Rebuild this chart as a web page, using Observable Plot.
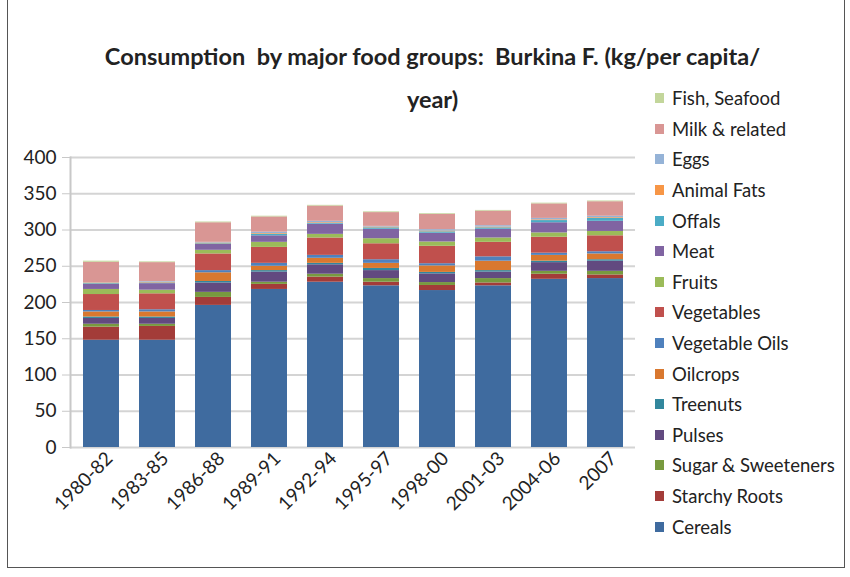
<!DOCTYPE html>
<html>
<head>
<meta charset="utf-8">
<script src="https://cdn.jsdelivr.net/npm/d3@7"></script>
<script src="https://cdn.jsdelivr.net/npm/@observablehq/plot@0.6"></script>
<style>
  html, body { margin: 0; padding: 0; background: #fff; }
  #wrap { position: relative; width: 850px; height: 577px; overflow: hidden;
          font-family: Lato, "Open Sans", sans-serif; color: #222; }
  #frame { position: absolute; left: 7px; top: -2px; width: 838px; height: 570px;
           border: 1px solid #555; box-sizing: border-box; }
  #title { position: absolute; left: 60px; width: 745px; top: 35px; text-align: center;
           font-size: 23.5px; font-weight: bold; line-height: 43px; }
  #legend { position: absolute; left: 655px; top: 83px; }
  .row { height: 30.6px; display: flex; align-items: center; font-size: 18.5px; }
  .sw { width: 9px; height: 10px; margin-right: 8px; }
  svg { position: absolute; left: 0; top: 0; }
</style>
</head>
<body>
<div id="wrap">
  <div id="frame"></div>
  <div id="title">Consumption&nbsp; by major food groups:&nbsp; Burkina F. (kg/per capita/<br>year)</div>
  <div id="legend"></div>
</div>
<script>
const years = ["1980-82","1983-85","1986-88","1989-91","1992-94","1995-97","1998-00","2001-03","2004-06","2007"];
const groups = ["Cereals","Starchy Roots","Sugar & Sweeteners","Pulses","Treenuts","Oilcrops","Vegetable Oils","Vegetables","Fruits","Meat","Offals","Animal Fats","Eggs","Milk & related","Fish, Seafood"];
const colors = ["#3f6b9f","#a33c39","#789a3f","#624a80","#32879d","#d9782f","#4f81bd","#c0504d","#9bbb59","#8064a2","#4bacc6","#f79646","#95b3d7","#d99694","#c3d69b"];
const yTicks = [0,50,100,150,200,250,300,350,400];

const cereals      = [148,148,196,218,228,223,216.5,223,232,233];
const starchyRoots = [18,19,11,7,7,5,7,4,7,5];
const sugar        = [4,3,7,3,4,5,4,6,4,5];
const pulses       = [8,8,13,14,13,11,12,9,12,14];
const treenuts     = [2,2,2,2,2,3,2,2,2,2];
const oilcrops     = [7,7,12,6,7,7,9,13,8,8];
const vegOils      = [2,3,3,4,4,5,3,6,3,3];
const vegetables   = [22,22,23,22,24,22,24,20,22,22];
const fruits       = [7,5,5,7,5,7,6,6,6,6];
const meat         = [7,9,8,9,14,13,12,12,14,14];
const offals       = [1,1,1,2,1,2,2,2,3,4];
const animalFats   = [1,1,1,1,1,1,1,1,1,1];
const eggs         = [0.5,1,1,2,2,1,2,2,2,2];
const milk         = [28,26,27,21,21,19,21,20,20,20];
const fish         = [1.5,1,1,1,1,1,1,1,1,1];

const series = [cereals,starchyRoots,sugar,pulses,treenuts,oilcrops,vegOils,vegetables,fruits,meat,offals,animalFats,eggs,milk,fish];
const data = [];
groups.forEach((g, gi) => years.forEach((y, yi) => data.push({year: y, group: g, value: series[gi][yi]})));

const font = 'Lato, "Open Sans", sans-serif';
const chart = Plot.plot({
  width: 850, height: 577,
  marginTop: 157, marginBottom: 130, marginLeft: 70, marginRight: 215,
  style: { fontFamily: font, fontSize: "18px", color: "#222", background: "transparent" },
  x: { domain: years, paddingInner: 0.36, paddingOuter: 0.2, label: null },
  y: { domain: [0, 400], label: null },
  color: { domain: groups, range: colors },
  marks: [
    Plot.ruleY(yTicks, { stroke: "#d4d4d4", strokeWidth: 2 }),
    Plot.barY(data, { x: "year", y: "value", fill: "group", order: groups }),
    Plot.axisY({ ticks: yTicks, tickSize: 8, tickPadding: 6, stroke: "#c8c8c8", fontSize: 19, label: null }),
    Plot.axisX({ tickSize: 0, tickRotate: -45, tickPadding: 8, fontSize: 19, label: null, dx: 8 }),
    Plot.frame({ anchor: "left", stroke: "#c8c8c8", strokeWidth: 2 })
  ]
});
document.getElementById("wrap").appendChild(chart);

const legend = document.getElementById("legend");
groups.slice().reverse().forEach(g => {
  const row = document.createElement("div");
  row.className = "row";
  const sw = document.createElement("div");
  sw.className = "sw";
  sw.style.background = colors[groups.indexOf(g)];
  const t = document.createElement("span");
  t.textContent = g;
  row.appendChild(sw); row.appendChild(t);
  legend.appendChild(row);
});
</script>
</body>
</html>
